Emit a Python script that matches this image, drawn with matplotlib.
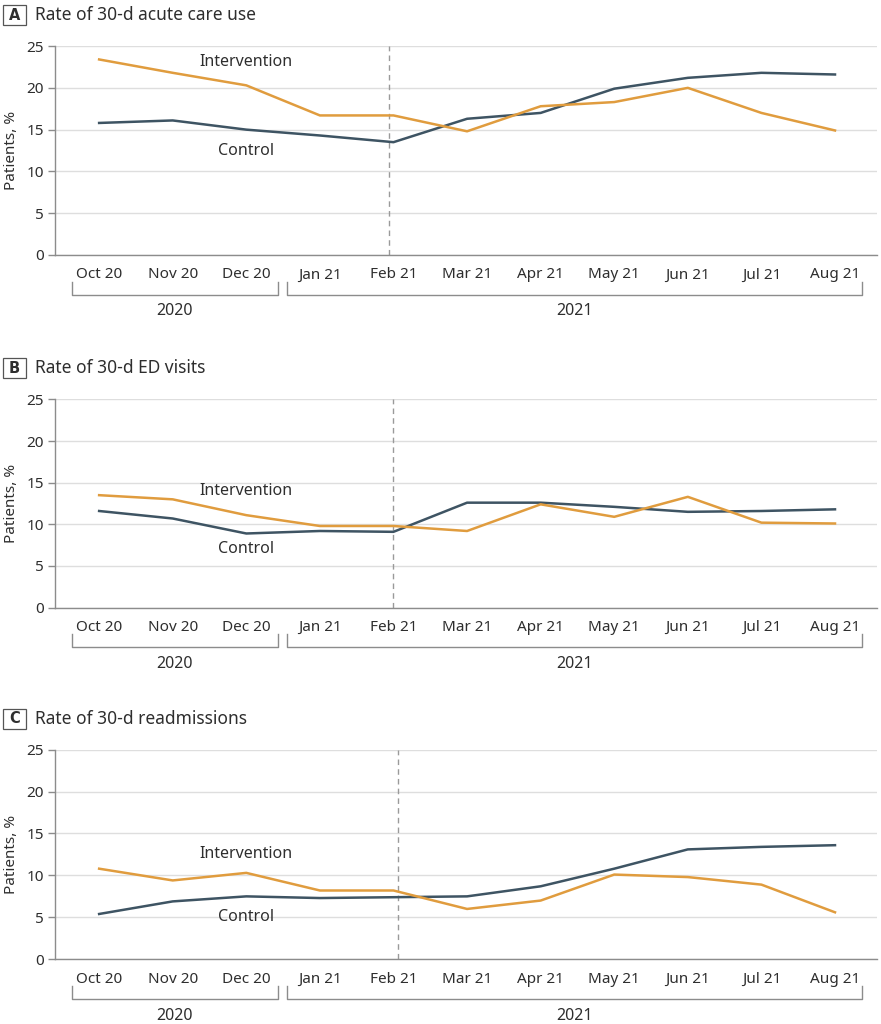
import matplotlib.pyplot as plt
import matplotlib.transforms as mtransforms
from matplotlib.patches import Rectangle

plt.rcParams['font.family'] = ['Noto Sans', 'DejaVu Sans']

# --- Dati ---
mesi = ['Oct 20', 'Nov 20', 'Dec 20', 'Jan 21', 'Feb 21', 'Mar 21',
        'Apr 21', 'May 21', 'Jun 21', 'Jul 21', 'Aug 21']
lettere = ['A', 'B', 'C']
titoli = ['Rate of 30-d acute care use', 'Rate of 30-d ED visits', 'Rate of 30-d readmissions']

intervento_a = [23.4, 21.8, 20.3, 16.7, 16.7, 14.8, 17.8, 18.3, 20.0, 17.0, 14.9]
controllo_a = [15.8, 16.1, 15.0, 14.3, 13.5, 16.3, 17.0, 19.9, 21.2, 21.8, 21.6]
intervento_b = [13.5, 13.0, 11.1, 9.8, 9.8, 9.2, 12.4, 10.9, 13.3, 10.2, 10.1]
controllo_b = [11.6, 10.7, 8.9, 9.2, 9.1, 12.6, 12.6, 12.1, 11.5, 11.6, 11.8]
intervento_c = [10.8, 9.4, 10.3, 8.2, 8.2, 6.0, 7.0, 10.1, 9.8, 8.9, 5.6]
controllo_c = [5.4, 6.9, 7.5, 7.3, 7.4, 7.5, 8.7, 10.8, 13.1, 13.4, 13.6]

# posizione delle etichette Intervention / Control (valore y)
etichetta_int_y = [23.1, 14.0, 12.6]
etichetta_ctrl_y = [12.5, 7.0, 5.1]

anni = ['2020', '2021']
yticks = [0, 5, 10, 15, 20, 25]
# ---------------------

ARANCIO = '#E09C3E'
GRIGIO_SCURO = '#3E5463'
GRIGIO = '#8C8C8C'
TESTO = '#2E2E2E'

fig = plt.figure(figsize=(8.81, 10.24), dpi=100)

# [left, bottom, width, height] in frazioni della figura
posizioni = [[0.0624, 0.751, 0.933, 0.204],
             [0.0624, 0.4066, 0.933, 0.2034],
             [0.0624, 0.0632, 0.933, 0.2048]]

dati = [(intervento_a, controllo_a), (intervento_b, controllo_b), (intervento_c, controllo_c)]
x = list(range(len(mesi)))

for i, pos in enumerate(posizioni):
    ax = fig.add_axes(pos)
    interv, ctrl = dati[i]

    ax.plot(x, ctrl, color=GRIGIO_SCURO, linewidth=1.8, zorder=3)
    ax.plot(x, interv, color=ARANCIO, linewidth=1.8, zorder=4)
    ax.axvline(4 - 0.06 + 0.06 * i, color='#9A9A9A', linestyle=(0, (4, 3)), linewidth=1.0, zorder=2)

    ax.text(2, etichetta_int_y[i], 'Intervention', ha='center', va='center', fontsize=11.5, color=TESTO)
    ax.text(2, etichetta_ctrl_y[i], 'Control', ha='center', va='center', fontsize=11.5, color=TESTO)

    ax.set_xlim(-0.6, 10.57)
    ax.set_ylim(0, 25)
    ax.set_yticks(yticks)
    ax.set_xticks(x)
    ax.set_xticklabels(mesi)
    ax.tick_params(axis='x', length=0, pad=9, labelsize=11, labelcolor=TESTO)
    ax.tick_params(axis='y', length=5, width=1, color=GRIGIO, pad=3, labelsize=11, labelcolor=TESTO)
    ax.grid(True, axis='y', color='#DEDEDE', linewidth=1.0, zorder=0)
    ax.set_axisbelow(True)
    for lato in ['top', 'right']:
        ax.spines[lato].set_visible(False)
    for lato in ['left', 'bottom']:
        ax.spines[lato].set_color(GRIGIO)
        ax.spines[lato].set_linewidth(1.0)
    ax.set_ylabel('Patients, %', fontsize=11, color=TESTO, labelpad=5)

    # parentesi degli anni sotto l'asse x
    trans = mtransforms.blended_transform_factory(ax.transData, ax.transAxes)
    for (x0, x1), anno in zip([(-0.37, 2.43), (2.55, 10.37)], anni):
        ax.plot([x0, x0, x1, x1], [-0.128, -0.191, -0.191, -0.128], color=GRIGIO,
                linewidth=1.0, transform=trans, clip_on=False)
        ax.text((x0 + x1) / 2, -0.27, anno, ha='center', va='center', fontsize=11.5,
                color=TESTO, transform=trans)

    # titolo con la lettera in un riquadro
    top = pos[1] + pos[3]
    fig.text(0.0165, top + 0.0303, lettere[i], ha='center', va='center', fontsize=10.5,
             fontweight='bold', family=['DejaVu Sans'], color=TESTO)
    fig.patches.append(Rectangle((0.0034, top + 0.0205), 0.0261, 0.0195, transform=fig.transFigure,
                                 fill=False, edgecolor='#555555', linewidth=0.9))
    fig.text(0.040, top + 0.0303, titoli[i], ha='left', va='center', fontsize=12.5, color=TESTO)

fig.savefig('out.png', dpi=100)
